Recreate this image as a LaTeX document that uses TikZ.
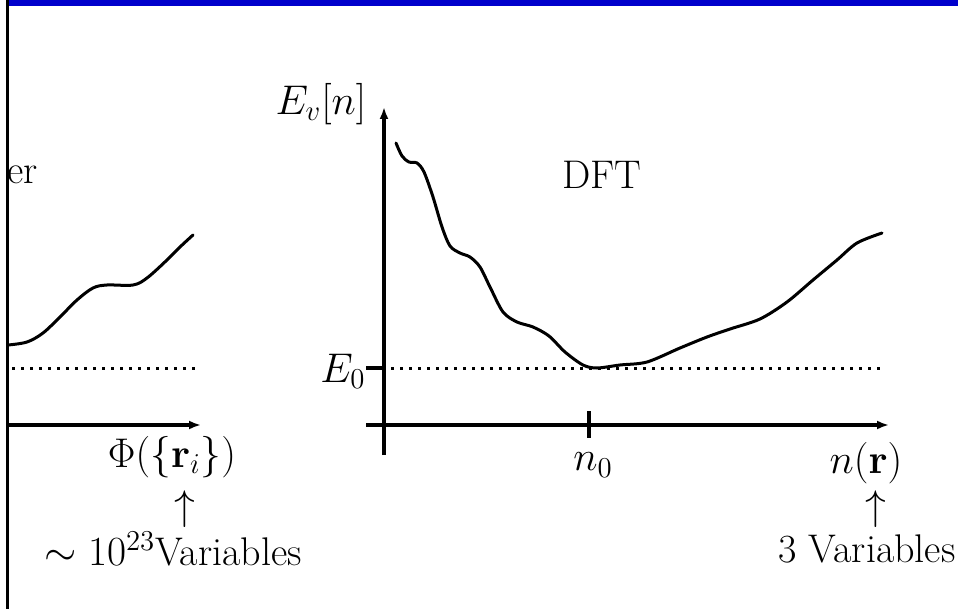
\documentclass[tikz,border=0pt]{standalone}
\usetikzlibrary{arrows.meta}
\definecolor{barblue}{RGB}{0,0,204}
\tikzset{
  axis/.style={line width=1.8pt},
  axisarrow/.style={line width=1.8pt,-{Latex[length=6pt,width=4.5pt]}},
  curve/.style={line width=1.5pt,line cap=round},
  dotline/.style={line width=1.5pt,dash pattern=on 1.5pt off 3pt},
  lbl/.style={inner sep=0pt,font=\fontsize{20}{24}\selectfont}
}
\begin{document}
\begin{tikzpicture}[x=0.5pt,y=-0.5pt]
\useasboundingbox (0,0) rectangle (958,609);
% top bar and left axis
\fill[barblue] (9,0) rectangle (958,6);
\coordinate (ly0) at (7.5,0);
\coordinate (ly1) at (7.5,609);
\draw[line width=1.7pt] (ly0) -- (ly1);
% left plot
\coordinate (lx0) at (6,425);
\coordinate (lx1) at (201,425);
\draw[axisarrow] (lx0) -- (lx1);
\coordinate (ld0) at (12,368);
\coordinate (ld1) at (197,368);
\draw[dotline] (ld0) -- (ld1);
\draw[curve] plot[smooth,tension=0.55] coordinates {(8,345) (27,342) (43,333) (60,317) (77,300) (93,288) (107,285) (133,285) (147,278) (167,260) (180,247) (193,235)};
\node[lbl,anchor=base west] (er) at (7,184) {er};
\node[lbl] (phi) at (172,457) {$\Phi(\{\mathbf{r}_i\})$};
\node[lbl] (uparr1) at (185,509) {$\uparrow$};
\node[lbl] (var1) at (173,549) {$\sim 10^{23}$Variables};
% right plot
\coordinate (ry0) at (384,455);
\coordinate (ry1) at (384,107);
\draw[axisarrow] (ry0) -- (ry1);
\coordinate (rx0) at (366,425);
\coordinate (rx1) at (889,425);
\draw[axisarrow] (rx0) -- (rx1);
\coordinate (e0a) at (366,368);
\coordinate (e0b) at (384,368);
\draw[axis] (e0a) -- (e0b);
\coordinate (n0a) at (589,411);
\coordinate (n0b) at (589,438);
\draw[axis] (n0a) -- (n0b);
\coordinate (rd0) at (391,368);
\coordinate (rd1) at (886,368);
\draw[dotline] (rd0) -- (rd1);
\draw[curve] plot[smooth,tension=0.5] coordinates {(396,143) (402,156) (409,162) (417,163) (424,172) (433,197) (442,227) (450,246) (460,253) (470,257) (480,267) (490,287) (503,312) (517,322) (533,327) (549,336) (565,352) (583,365) (597,368) (620,365) (647,362) (680,348) (707,337) (730,329) (760,319) (787,302) (813,280) (837,260) (857,243) (882,233)};
\node[lbl] (evn) at (321,104) {$E_v[n]$};
\node[lbl] (e0) at (343,371) {$E_0$};
\node[lbl] (dft) at (602,175) {DFT};
\node[lbl] (n0) at (593,465) {$n_0$};
\node[lbl] (nr) at (866,463) {$n(\mathbf{r})$};
\node[lbl] (uparr2) at (876,509) {$\uparrow$};
\node[lbl] (var2) at (867,549) {3 Variables};
\end{tikzpicture}
\end{document}
